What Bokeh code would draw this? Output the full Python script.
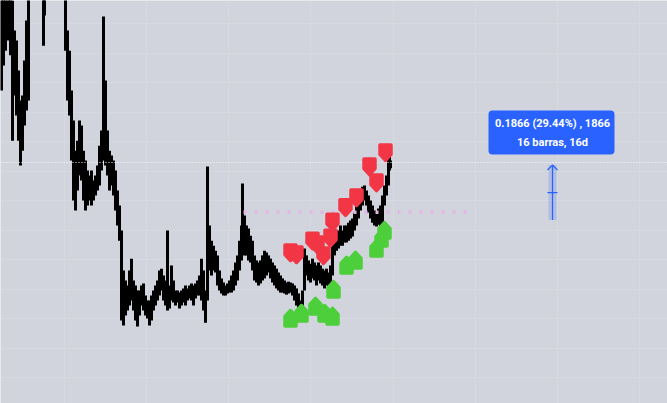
from bokeh.plotting import figure
from bokeh.models import Range1d, FixedTicker, ColumnDataSource
from bokeh.core.properties import value
from bokeh.embed import file_html
from bokeh.resources import INLINE

# ---------------- data ----------------
# bar index, high, low of each (compressed) candle
bar = [2, 6, 10, 16, 20, 24, 28, 32, 36, 40, 44, 48, 52, 56, 68, 76, 86, 88, 100, 116,
       130, 134, 138, 142, 146, 150, 154, 158, 162, 166, 170, 174, 178, 182, 186, 190, 194, 198,
       202, 206, 210, 214, 218, 222, 226, 230, 234, 238, 242, 246, 250, 254, 258, 262, 266, 270,
       274, 278, 282, 286, 290, 294, 298, 302, 306, 310, 314, 318, 322, 326, 330, 334, 338, 342,
       346, 350, 354, 358, 362, 366, 370, 374, 378, 382, 386, 390, 394, 398, 402, 406, 410, 414,
       418, 422, 426, 430, 434, 438, 442, 446, 450, 454, 458, 462, 466, 470, 474, 478, 482, 484,
       488, 492, 496, 500, 504, 508, 512, 516, 520, 524, 528, 532, 536, 540, 544, 548, 552, 556,
       560, 564, 568, 572, 576, 580, 584, 588, 592, 596, 600, 604, 608, 612, 616, 620, 624, 628,
       632, 636, 640, 644, 648, 652, 656, 660, 664, 668, 672, 676, 680, 684, 688, 692, 696, 700,
       704, 708, 712, 716, 720, 724, 728, 732, 736, 740, 744, 748, 752, 756, 760, 764, 768, 772,
       776, 778, 780]
high = [1.412, 1.412, 1.412, 1.412, 1.412, 1.378, 1.276, 1.242, 1.141, 1.039, 1.056, 1.175, 1.310, 1.412,
        1.550, 1.560, 1.412, 1.446, 1.550, 1.540,
        1.412, 1.276, 1.208, 1.073, 0.971, 0.869, 0.903, 0.971, 0.954, 0.869, 0.836, 0.802, 0.785, 0.802,
        0.768, 0.785, 0.819, 0.886, 0.937, 1.324, 1.107, 0.937, 0.869, 0.853, 0.836, 0.802, 0.734, 0.683,
        0.598, 0.463, 0.429, 0.412, 0.463, 0.503, 0.429, 0.412, 0.395, 0.395, 0.412, 0.419, 0.378, 0.361,
        0.361, 0.378, 0.395, 0.412, 0.429, 0.463, 0.469, 0.446, 0.429, 0.598, 0.412, 0.480, 0.429, 0.395,
        0.395, 0.388, 0.395, 0.402, 0.412, 0.402, 0.412, 0.419, 0.412, 0.419, 0.429, 0.446, 0.503, 0.463,
        0.395, 0.815, 0.615, 0.564, 0.547, 0.530, 0.514, 0.463, 0.436, 0.422, 0.412, 0.419, 0.429, 0.446,
        0.463, 0.490, 0.514, 0.564, 0.615, 0.758, 0.649, 0.615, 0.605, 0.581, 0.564, 0.514, 0.497, 0.490,
        0.497, 0.514, 0.530, 0.524, 0.514, 0.503, 0.490, 0.480, 0.469, 0.456, 0.446, 0.436, 0.429, 0.422,
        0.425, 0.422, 0.419, 0.412, 0.402, 0.385, 0.361, 0.395, 0.537, 0.514, 0.497, 0.486, 0.503, 0.490,
        0.480, 0.490, 0.480, 0.469, 0.463, 0.469, 0.456, 0.480, 0.615, 0.581, 0.581, 0.598, 0.615, 0.598,
        0.615, 0.615, 0.625, 0.632, 0.639, 0.659, 0.683, 0.707, 0.727, 0.747, 0.751, 0.734, 0.717, 0.700,
        0.683, 0.666, 0.659, 0.673, 0.683, 0.717, 0.751, 0.785, 0.842, 0.863, 0.836]
low = [1.073, 1.158, 1.208, 1.242, 1.192, 0.903, 1.056, 0.988, 0.903, 0.819, 0.869, 0.954, 1.005, 1.039,
       1.450, 1.460, 1.225, 1.327, 1.450, 1.440,
       1.208, 1.039, 0.988, 0.836, 0.700, 0.666, 0.734, 0.785, 0.768, 0.700, 0.666, 0.683, 0.700, 0.683,
       0.700, 0.717, 0.734, 0.751, 0.802, 0.836, 0.819, 0.785, 0.734, 0.751, 0.717, 0.666, 0.615, 0.564,
       0.293, 0.276, 0.310, 0.327, 0.344, 0.361, 0.327, 0.293, 0.273, 0.310, 0.344, 0.327, 0.310, 0.300,
       0.276, 0.293, 0.327, 0.344, 0.361, 0.378, 0.395, 0.361, 0.344, 0.327, 0.334, 0.361, 0.354, 0.344,
       0.354, 0.334, 0.344, 0.354, 0.344, 0.361, 0.368, 0.361, 0.344, 0.368, 0.378, 0.378, 0.361, 0.327,
       0.286, 0.361, 0.463, 0.446, 0.463, 0.456, 0.412, 0.395, 0.385, 0.378, 0.378, 0.385, 0.388, 0.388,
       0.395, 0.412, 0.429, 0.463, 0.497, 0.547, 0.514, 0.514, 0.497, 0.490, 0.463, 0.429, 0.422, 0.412,
       0.419, 0.429, 0.436, 0.446, 0.456, 0.436, 0.422, 0.412, 0.402, 0.395, 0.388, 0.388, 0.385, 0.381,
       0.385, 0.388, 0.378, 0.361, 0.344, 0.310, 0.293, 0.320, 0.395, 0.446, 0.429, 0.422, 0.436, 0.429,
       0.412, 0.429, 0.419, 0.412, 0.402, 0.412, 0.395, 0.405, 0.446, 0.514, 0.530, 0.537, 0.547, 0.547,
       0.558, 0.558, 0.564, 0.571, 0.578, 0.598, 0.615, 0.639, 0.666, 0.683, 0.700, 0.683, 0.659, 0.639,
       0.625, 0.615, 0.612, 0.618, 0.605, 0.605, 0.683, 0.717, 0.751, 0.802, 0.809]

# sell signals (red, above price) and buy signals (green, below price)
sell_bar = [580, 592, 624, 634, 646, 660, 664, 690, 712, 738, 752, 770]
sell_price = [0.524, 0.517, 0.564, 0.551, 0.514, 0.574, 0.628, 0.677, 0.710, 0.815, 0.761, 0.863]
buy_bar = [580, 602, 630, 648, 664, 666, 692, 710, 752, 762, 768]
buy_price = [0.300, 0.317, 0.341, 0.317, 0.307, 0.398, 0.480, 0.497, 0.537, 0.571, 0.598]

last_price = 0.829          # current price line
level_price = 0.660         # dotted pink level
level_start, level_end = 486, 940

# price range measurement
range_left, range_right = 1096, 1112
range_base, range_top = 0.6338, 0.8204
label_lines = ["0.1866 (29.44%) , 1866", "16 barras, 16d"]
label_left, label_right = 976, 1228
label_top, label_bottom = 1.005, 0.856
label_y = [0.961, 0.898]

x_grid = [128, 292, 456, 620, 786, 950, 1114, 1278]
y_grid = [0.1, 0.2, 0.3, 0.4, 0.5, 0.6, 0.7, 0.8, 0.9, 1.0, 1.1, 1.2, 1.3]

# ---------------- figure ----------------
W, H = 667, 403
X0, X1 = 0, 1334
Y0, Y1 = 0.012, 1.378
BG = "#d1d4dc"

p = figure(width=W, height=H, output_backend="svg", toolbar_location=None,
           x_range=Range1d(X0, X1), y_range=Range1d(Y0, Y1), min_border=0)
p.background_fill_color = BG
p.border_fill_color = BG
p.outline_line_color = None
p.xaxis.visible = False
p.yaxis.visible = False
p.xgrid.ticker = FixedTicker(ticks=x_grid)
p.ygrid.ticker = FixedTicker(ticks=y_grid)
p.grid.grid_line_color = "#d6d9e0"
p.grid.grid_line_width = 1

px_x = (X1 - X0) / W
px_y = (Y1 - Y0) / H

# candles
src = ColumnDataSource(dict(bar=bar, high=high, low=low))
p.segment(x0="bar", y0="low", x1="bar", y1="high", source=src, line_color="#000000", line_width=3)

# current price line
p.line(x=[X0, X1], y=[last_price, last_price], line_color="white", line_width=1, line_dash="1 2")

# pink dotted level
p.line(x=[level_start, level_end], y=[level_price, level_price], line_color="#e3b6e6",
       line_width=3.5, line_dash="3 8")

# signal shapes (label style)
def shapes(xs, ys, up):
    s = 1 if up else -1
    offs = [(-5.5, -7.5), (5.5, -7.5), (5.5, 2), (0, 8), (-5.5, 2)]
    PX, PY = [], []
    for x, y in zip(xs, ys):
        PX.append([x + ox * px_x for ox, oy in offs])
        PY.append([y + s * oy * px_y for ox, oy in offs])
    return PX, PY

sx, sy = shapes(sell_bar, sell_price, up=False)
p.patches(xs=sx, ys=sy, fill_color="#f23645", line_color="#f23645", line_width=3.5, line_join="round")
bx, by = shapes(buy_bar, buy_price, up=True)
p.patches(xs=bx, ys=by, fill_color="#4ccf3a", line_color="#4ccf3a", line_width=3.5, line_join="round")

# price range tool
p.quad(left=[range_left], right=[range_right], bottom=[range_base], top=[range_top],
       fill_color="#2962ff", fill_alpha=0.2, line_color=None)
mid_x = (range_left + range_right) / 2
p.line(x=[mid_x, mid_x], y=[range_base, range_top], line_color="#2962ff", line_width=1.2)
mid_y = (range_base + range_top) / 2
p.line(x=[range_left - 2, range_right + 2], y=[mid_y, mid_y], line_color="#2962ff", line_width=1.2)
p.line(x=[mid_x - 5 * px_x, mid_x, mid_x + 5 * px_x],
       y=[range_top - 5 * px_y, range_top, range_top - 5 * px_y], line_color="#2962ff", line_width=1.2)

p.quad(left=[label_left], right=[label_right], top=[label_top], bottom=[label_bottom],
       fill_color="#2962ff", line_color=None, border_radius=4)
p.text(x=[mid_x, mid_x], y=label_y, text=label_lines, text_align="center", text_baseline="middle",
       text_color="white", text_font=value("Roboto"), text_font_size="11px", text_font_style="bold")

open("out.html", "w").write(file_html(p, INLINE))
